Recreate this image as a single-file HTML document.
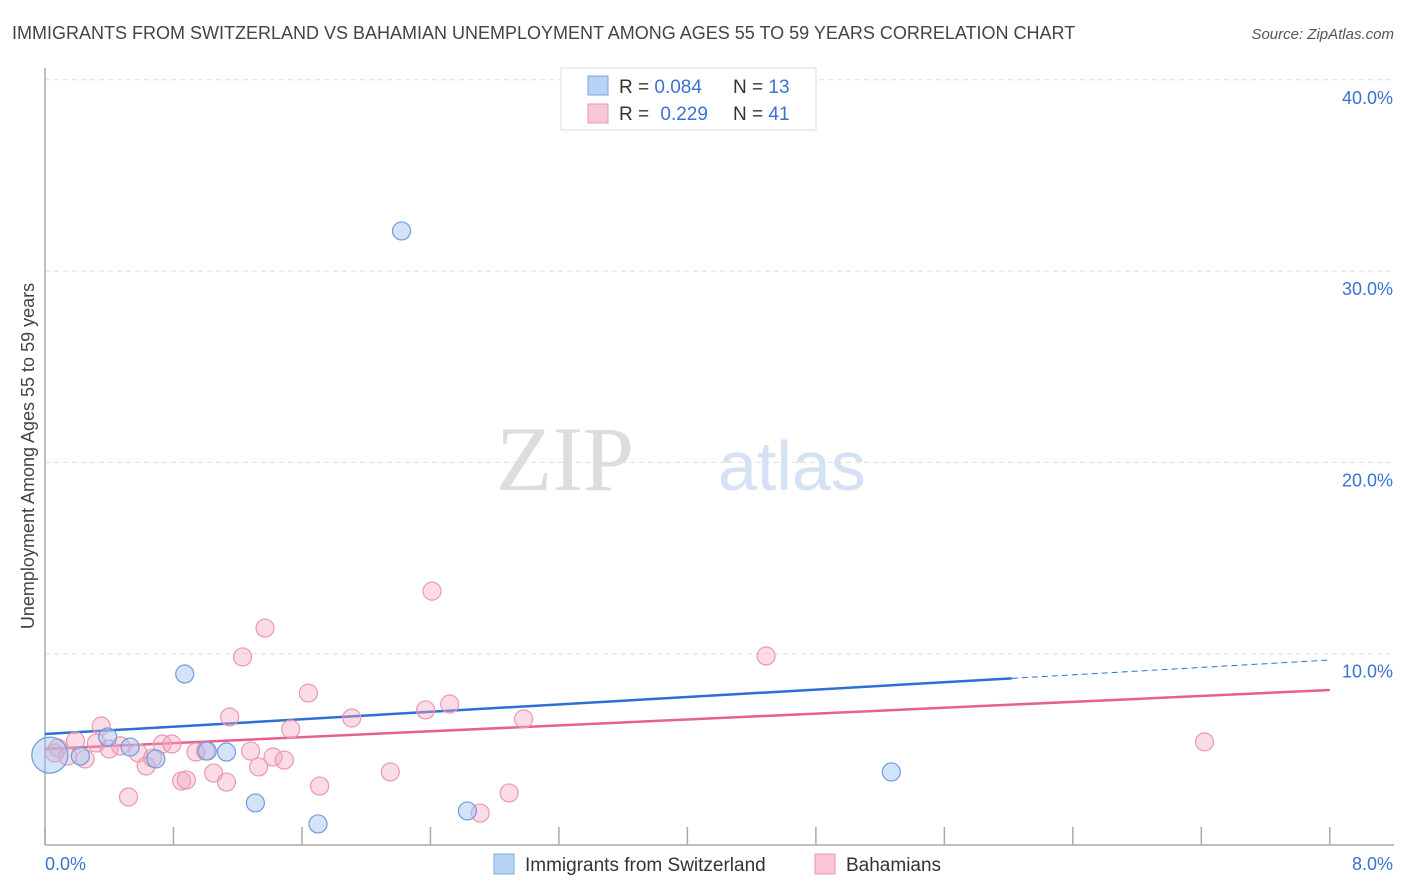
<!DOCTYPE html>
<html><head><meta charset="utf-8"><style>
body{margin:0;background:#fff;font-family:"Liberation Sans",sans-serif;}
svg{display:block}
</style></head><body>
<svg id="chart" width="1406" height="892" xmlns="http://www.w3.org/2000/svg">
<text x="12" y="39" font-size="18" fill="#444">IMMIGRANTS FROM SWITZERLAND VS BAHAMIAN UNEMPLOYMENT AMONG AGES 55 TO 59 YEARS CORRELATION CHART</text>
<text x="1394" y="39" font-size="15" fill="#555" font-style="italic" text-anchor="end">Source: ZipAtlas.com</text>
<g id="grid"></g>
<text x="634" y="490" font-size="92" fill="#ddd" text-anchor="end" font-family="Liberation Serif,serif">ZIP</text>
<text x="718" y="490" font-size="70" fill="#d4e2f4">atlas</text>
<line x1="45" y1="68" x2="45" y2="845" stroke="#aaa" stroke-width="1.5"/>
<line x1="45" y1="845" x2="1394" y2="845" stroke="#aaa" stroke-width="1.5"/>
<g id="xticks"></g>
<g id="ylabels"></g>
<g id="trends"></g>
<g id="pts"></g>
<text x="45" y="870" font-size="18" fill="#3a72d0">0.0%</text>
<text x="1393" y="870" font-size="18" fill="#3a72d0" text-anchor="end">8.0%</text>
<text transform="translate(34,456) rotate(-90)" font-size="18" fill="#444" text-anchor="middle">Unemployment Among Ages 55 to 59 years</text>
<g>
<rect x="561" y="68" width="255" height="62" fill="#fff" stroke="#ddd"/>
<rect x="588" y="76" width="20" height="19" fill="#b9d3f5" stroke="#7aa6e0"/>
<rect x="588" y="104" width="20" height="19" fill="#f9c6d5" stroke="#ea98b2"/>
<text x="619" y="93" font-size="19" fill="#333">R = <tspan fill="#3a72d0">0.084</tspan><tspan x="733">N = </tspan><tspan fill="#3a72d0">13</tspan></text>
<text x="619" y="120" font-size="19" fill="#333">R = <tspan fill="#3a72d0" dx="6">0.229</tspan><tspan x="733">N = </tspan><tspan fill="#3a72d0">41</tspan></text>
</g>
<g>
<rect x="494" y="854" width="20" height="20" fill="#b9d3f5" stroke="#7aa6e0"/>
<text x="525" y="871" font-size="19" fill="#333">Immigrants from Switzerland</text>
<rect x="815" y="854" width="20" height="20" fill="#f9c6d5" stroke="#ea98b2"/>
<text x="846" y="871" font-size="19" fill="#333">Bahamians</text>
</g>
</svg>
<script>
const yTicks=[10,20,30,40];
const xTickVals=[0,0.8,1.6,2.4,3.2,4.0,4.8,5.6,6.4,7.2,8.0];
const swissX=[0.03,0.22,0.39,0.53,0.69,0.87,1.01,1.13,1.31,1.70,2.22,2.63,5.27];
const swissY=[4.7,4.65,5.65,5.12,4.5,8.94,4.91,4.86,2.2,1.1,32.1,1.78,3.82];
const bahX=[0.06,0.08,0.14,0.19,0.25,0.32,0.35,0.40,0.47,0.52,0.58,0.63,0.67,0.73,0.79,0.85,0.88,0.94,1.00,1.05,1.13,1.15,1.23,1.28,1.33,1.37,1.42,1.49,1.53,1.64,1.71,1.91,2.15,2.37,2.41,2.52,2.71,2.89,2.98,4.49,7.22];
const bahY=[4.81,5.07,4.65,5.44,4.50,5.33,6.22,5.02,5.18,2.51,4.81,4.13,4.55,5.28,5.28,3.35,3.40,4.86,4.91,3.76,3.29,6.69,9.83,4.91,4.08,11.34,4.60,4.44,6.06,7.94,3.08,6.64,3.82,7.06,13.27,7.37,1.67,2.72,6.59,9.88,5.39];
const swissTrend=[5.8,9.67], bahTrend=[5.02,8.1];
const NS="http://www.w3.org/2000/svg";
const X=v=>45+v*160.6, Y=v=>845-v*19.13;
function mk(t,a,p){const e=document.createElementNS(NS,t);for(const k in a)e.setAttribute(k,a[k]);p.appendChild(e);return e;}
const grid=document.getElementById('grid'),yl=document.getElementById('ylabels');
yTicks.forEach(t=>{
 const l=mk('line',{x1:45,x2:1394,y1:Y(t),y2:Y(t),stroke:'#ddd','stroke-dasharray':'5,4'},grid);
 
 
 const tx=mk('text',{x:1393,y:Y(t)+24,'font-size':18,fill:'#3a72d0','text-anchor':'end'},yl);
 tx.textContent=t.toFixed(1)+'%';
 
 
});
const xt=document.getElementById('xticks');
xTickVals.forEach(v=>{
 const l=mk('line',{x1:X(v),x2:X(v),y1:827,y2:845,stroke:'#aaa','stroke-width':1.5},xt);
 
 
});
const tr=document.getElementById('trends');
const sEnd=6.02, sAt=v=>swissTrend[0]+(swissTrend[1]-swissTrend[0])*v/8;
let l1=mk('line',{x1:X(0),y1:Y(sAt(0)),x2:X(sEnd),y2:Y(sAt(sEnd)),stroke:'#2f6fd4','stroke-width':2.5},tr);


let l2=mk('line',{x1:X(sEnd),y1:Y(sAt(sEnd)),x2:X(8),y2:Y(sAt(8)),stroke:'#2f6fd4','stroke-width':1,'stroke-dasharray':'6,4'},tr);


let l3=mk('line',{x1:X(0),y1:Y(bahTrend[0]),x2:X(8),y2:Y(bahTrend[1]),stroke:'#e5628f','stroke-width':2.5},tr);


const pts=document.getElementById('pts');
bahX.forEach((v,i)=>{
 const c=mk('circle',{cx:X(v),cy:Y(bahY[i]),r:9,fill:'rgba(245,165,190,0.4)',stroke:'#ea98b2','stroke-width':1.2},pts);
 
 
});
swissX.forEach((v,i)=>{
 const c=mk('circle',{cx:X(v),cy:Y(swissY[i]),r:i===0?18:9,fill:'rgba(160,195,240,0.45)',stroke:'#6a9de0','stroke-width':1.2},pts);
 
 
});
</script>
</body></html>
